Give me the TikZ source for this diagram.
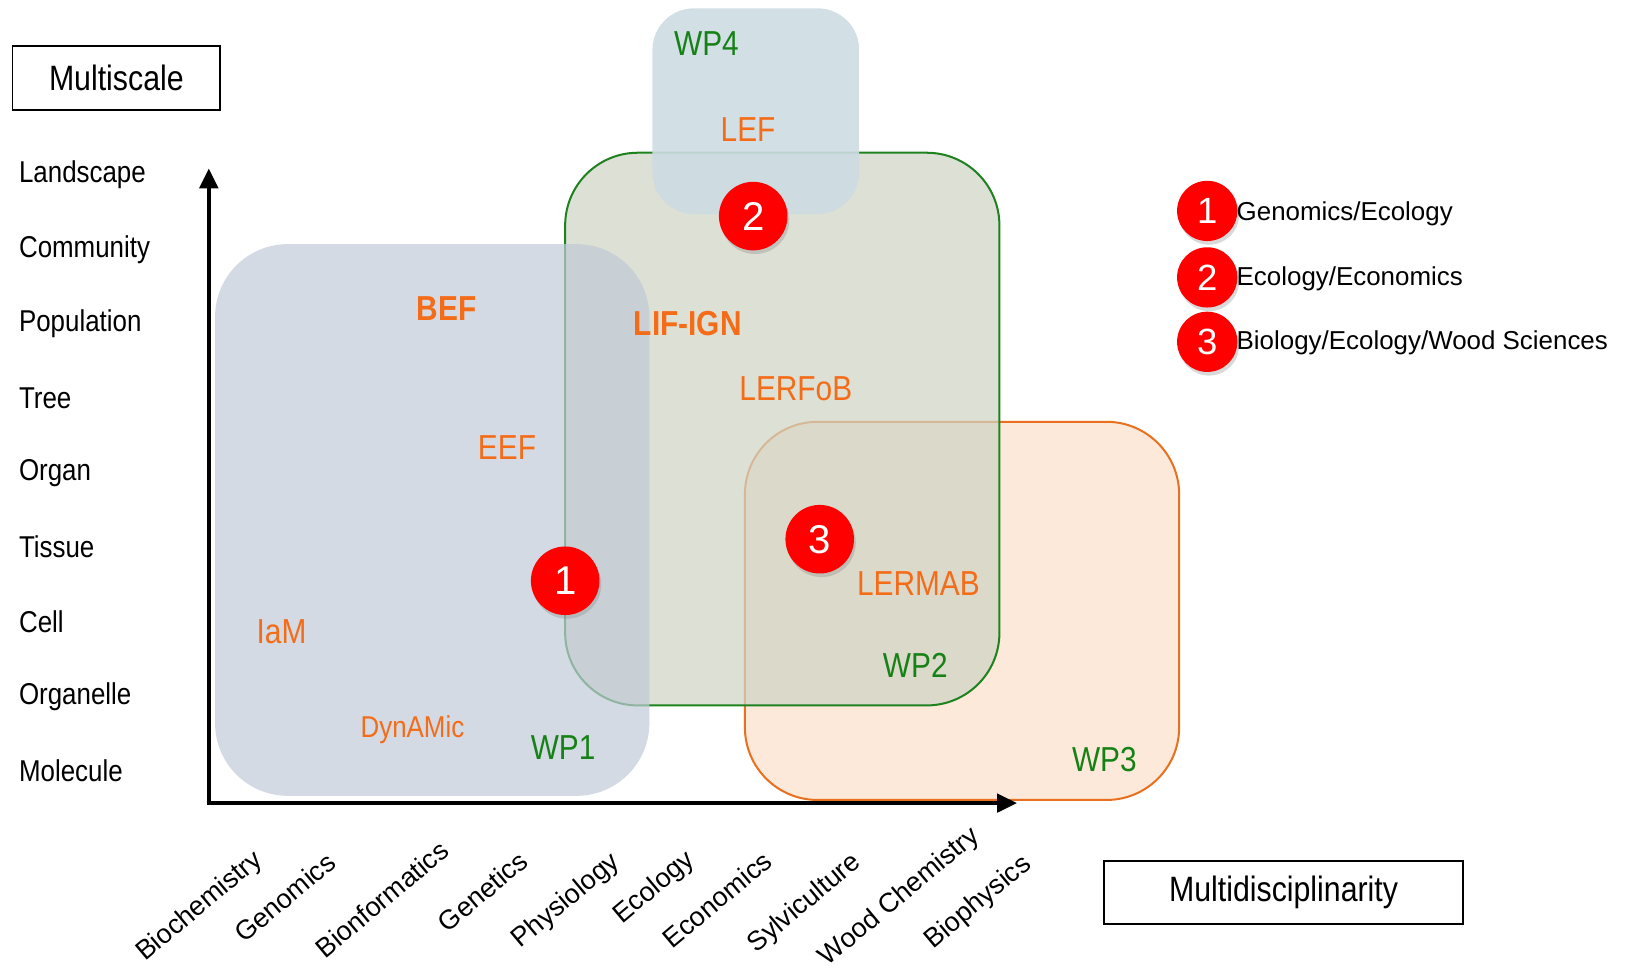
\documentclass[tikz,border=0pt]{standalone}
\usepackage{fontspec}
\setmainfont{Liberation Sans}
\newfontfamily\condfont[FakeStretch=0.86]{Liberation Sans}
\usetikzlibrary{arrows.meta,shadows}

\definecolor{orgtext}{RGB}{245,108,24}
\definecolor{wpgreen}{RGB}{22,130,22}
\definecolor{wponefill}{RGB}{192,202,215}
\definecolor{wptwofill}{RGB}{208,212,197}
\definecolor{wptwoline}{RGB}{30,130,30}
\definecolor{wpthreefill}{RGB}{252,233,218}
\definecolor{wpthreeline}{RGB}{232,112,30}
\definecolor{wpfourfill}{RGB}{205,219,226}

\begin{document}
\begin{tikzpicture}[x=0.02cm,y=-0.02cm,
    lab/.style={text=orgtext,font=\condfont\fontsize{19}{22}\selectfont},
    wplab/.style={text=wpgreen,font=\condfont\fontsize{19}{22}\selectfont},
    scalelab/.style={anchor=west,inner sep=0pt,font=\condfont\fontsize{16.5}{19}\selectfont},
    disclab/.style={anchor=base east,rotate=40,inner sep=0pt,font=\fontsize{14.8}{17}\selectfont},
    titlebox/.style={draw,line width=1pt,font=\condfont\fontsize{19.3}{22}\selectfont},
    dot/.style={circle,fill=red,text=white,inner sep=0pt,
        drop shadow={shadow xshift=1pt,shadow yshift=-2pt,opacity=0.3}},
    bigdot/.style={dot,minimum size=1.32cm,font=\fontsize{22}{24}\selectfont},
    smalldot/.style={dot,minimum size=1.16cm,font=\fontsize{20}{22}\selectfont},
    axis/.style={line width=2.3pt,-{Triangle[length=11pt,width=10pt]}}]
    \useasboundingbox (0,0) rectangle (1568,934);

    % work packages
    \draw[rounded corners=1.4cm,draw=wpthreeline,line width=1.1pt,fill=wpthreefill]
        (717,406) rectangle (1135,770);
    \draw[rounded corners=1.4cm,draw=wptwoline,line width=1.1pt,fill=wptwofill,fill opacity=0.73]
        (544,147) rectangle (962,679);
    \fill[rounded corners=1.4cm,wponefill,opacity=0.7] (207,235) rectangle (625,766);
    \fill[rounded corners=0.8cm,wpfourfill,opacity=0.9] (628,8) rectangle (827,206);

    \node[wplab] (wp4) at (680,42) {WP4};
    \node[wplab] (wp1) at (542,720) {WP1};
    \node[wplab] (wp2) at (881,640) {WP2};
    \node[wplab] (wp3) at (1063,731) {WP3};

    \node[lab] (lef) at (720,125) {LEF};
    \node[lab,font=\condfont\bfseries\fontsize{19}{22}\selectfont] (bef) at (430,297) {BEF};
    \node[lab,font=\condfont\bfseries\fontsize{19}{22}\selectfont] (lifign) at (662,311) {LIF-IGN};
    \node[lab] (lerfob) at (766,374) {LERFoB};
    \node[lab] (eef) at (488,431) {EEF};
    \node[lab] (lermab) at (884,562) {LERMAB};
    \node[lab] (iam) at (271,608) {IaM};
    \node[lab,font=\condfont\fontsize{16.5}{19}\selectfont] (dynamic) at (397,702) {DynAMic};

    % axes
    \coordinate (origin) at (201,773);
    \coordinate (ytop) at (201,162);
    \coordinate (xend) at (979,773);
    \draw[axis] (origin) -- (ytop);
    \draw[axis] ([xshift=-1.15pt]origin) -- (xend);

    \node[titlebox,minimum width=4cm,minimum height=1.22cm] (multiscale) at (112,75) {Multiscale};
    \node[titlebox,minimum width=6.9cm,minimum height=1.2cm] (multidisc) at (1235.5,859) {Multidisciplinarity};

    \foreach \name/\txt/\yy in {landscape/Landscape/168,community/Community/240,
        population/Population/312,tree/Tree/383,organ/Organ/455,tissue/Tissue/526,
        cell/Cell/598,organelle/Organelle/671,molecule/Molecule/742}
        \node[scalelab] (\name) at (18,\yy) {\txt};

    \foreach \name/\txt/\xx/\yy in {biochem/Biochemistry/254/830,genomics/Genomics/325/833,
        bioinf/Bionformatics/434/822,genetics/Genetics/510/832,physio/Physiology/598/832,
        ecology/Ecology/670/830,economics/Economics/745/832,sylvi/Sylviculture/830/832,
        woodchem/Wood Chemistry/944/807,biophys/Biophysics/994/834}
        \node[disclab] (\name) at (\xx,\yy) {\txt};

    % overlaps
    \node[bigdot] (one) at (544,559) {1};
    \node[bigdot] (two) at (725,208) {2};
    \node[bigdot] (three) at (789,519) {3};

    % legend
    \node[smalldot] (leg1) at (1162,203) {1};
    \node[smalldot] (leg2) at (1162,267) {2};
    \node[smalldot] (leg3) at (1162,329) {3};
    \node[anchor=west,inner sep=0pt,font=\fontsize{14.2}{17}\selectfont] (legtxt1) at (1190,206) {Genomics/Ecology};
    \node[anchor=west,inner sep=0pt,font=\fontsize{14.2}{17}\selectfont] (legtxt2) at (1190,268) {Ecology/Economics};
    \node[anchor=west,inner sep=0pt,font=\fontsize{14.2}{17}\selectfont] (legtxt3) at (1190,330) {Biology/Ecology/Wood Sciences};
\end{tikzpicture}
\end{document}
